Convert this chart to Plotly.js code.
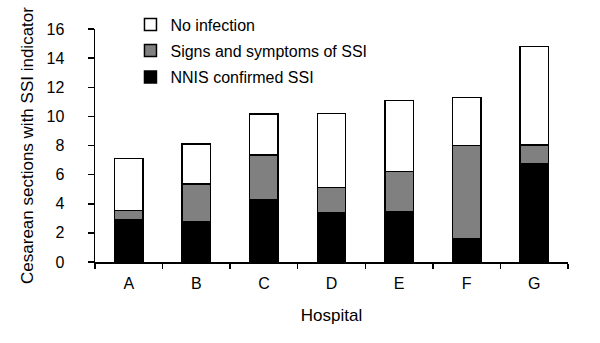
<!DOCTYPE html>
<html>
<head>
<meta charset="utf-8">
<script src="https://cdn.plot.ly/plotly-3.0.1.min.js"></script>
<style>html,body{margin:0;padding:0;background:#fff;}#chart{width:600px;height:343px;}</style>
</head>
<body>
<div id="chart"></div>
<script>
const hospitals = ["A", "B", "C", "D", "E", "F", "G"];
const nnisConfirmed = [2.9, 2.75, 4.3, 3.4, 3.45, 1.6, 6.75];
const signsSymptoms = [0.65, 2.6, 3.05, 1.7, 2.75, 6.4, 1.3];
const noInfection = [3.55, 2.75, 2.8, 5.1, 4.9, 3.3, 6.75];
const yTicks = [0, 2, 4, 6, 8, 10, 12, 14, 16];

const FONT = "Liberation Sans, Arial, sans-serif";
const line = {color: "#000", width: 1.5};

const traces = [
  {type: "bar", name: "NNIS confirmed SSI", x: hospitals, y: nnisConfirmed,
   marker: {color: "#000000", line: line}, width: 0.42, legend: "legend3"},
  {type: "bar", name: "Signs and symptoms of SSI", x: hospitals, y: signsSymptoms,
   marker: {color: "#808080", line: line}, width: 0.42, legend: "legend2"},
  {type: "bar", name: "No infection", x: hospitals, y: noInfection,
   marker: {color: "#ffffff", line: line}, width: 0.42, legend: "legend"}
];

const legBase = {xref: "paper", yref: "container", xanchor: "left", yanchor: "middle",
  bgcolor: "rgba(0,0,0,0)", borderwidth: 0, font: {family: FONT, size: 16, color: "#000"},
  x: 0.075};

const layout = {
  width: 600, height: 343,
  margin: {l: 95, r: 32, t: 29, b: 81, autoexpand: false},
  paper_bgcolor: "#fff", plot_bgcolor: "#fff",
  barmode: "stack",
  font: {family: FONT, size: 16, color: "#000"},
  xaxis: {
    type: "category", showline: true, linecolor: "#000", linewidth: 1.5,
    ticks: "outside", tickson: "boundaries", ticklen: 5, tickcolor: "#000", tickwidth: 1.5,
    ticklabelstandoff: 6,
    title: {text: "Hospital", font: {family: FONT, size: 17}, standoff: 18},
    showgrid: false, zeroline: false
  },
  yaxis: {
    range: [0, 16], tickvals: yTicks, showline: true, linecolor: "#000", linewidth: 1.5,
    ticks: "outside", ticklen: 6, tickcolor: "#000", tickwidth: 1.5,
    ticklabelstandoff: 20,
    title: {text: "Cesarean sections with SSI indicator", font: {family: FONT, size: 17}, standoff: 8},
    showgrid: false, zeroline: false
  },
  showlegend: true,
  legend: Object.assign({}, legBase, {y: 1 - 24.5/343}),
  legend2: Object.assign({}, legBase, {y: 1 - 50.5/343}),
  legend3: Object.assign({}, legBase, {y: 1 - 77/343})
};

Plotly.newPlot("chart", traces, layout, {displayModeBar: false, staticPlot: true});
</script>
</body>
</html>
